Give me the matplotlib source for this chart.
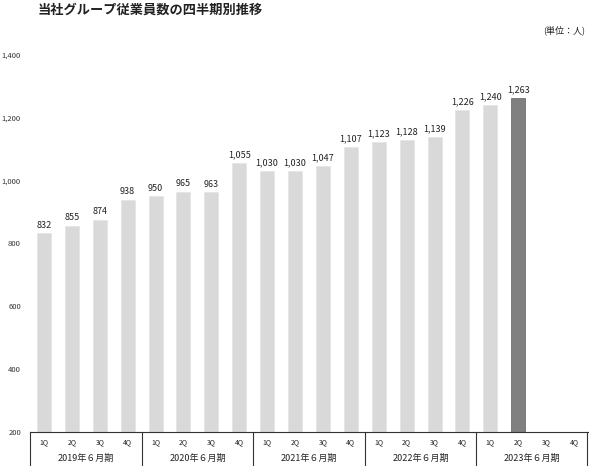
import numpy as np
import matplotlib.pyplot as plt

plt.rcParams['font.family'] = ['Noto Sans CJK JP', 'DejaVu Sans']

TITLE = '当社グループ従業員数の四半期別推移'
UNIT = '(単位：人)'
years = ['2019年６月期', '2020年６月期', '2021年６月期', '2022年６月期', '2023年６月期']
quarters = ['1Q', '2Q', '3Q', '4Q']
employees = [832, 855, 874, 938,
             950, 965, 963, 1055,
             1030, 1030, 1047, 1107,
             1123, 1128, 1139, 1226,
             1240, 1263]
highlight = 17  # latest quarter
y_ticks = [200, 400, 600, 800, 1000, 1200, 1400]

W, H = 589, 466
fig = plt.figure(figsize=(W / 100, H / 100), dpi=100)
ax = fig.add_axes([30 / W, (H - 432) / H, 558 / W, (432 - 55) / H])

n_slots = len(years) * len(quarters)
x = np.arange(len(employees))
colors = ['#d9d9d9'] * len(employees)
colors[highlight] = '#808080'
ax.bar(x, np.array(employees) - 200, bottom=200, width=0.5, color=colors,
       edgecolor=['#e6e6e6' if i != highlight else '#707070' for i in x], linewidth=0.6)

for xi, v in zip(x, employees):
    ax.text(xi, v + 12, f'{v:,}', ha='center', va='bottom', fontsize=6.5, color='#222222')

ax.set_xlim(-0.5, n_slots - 0.5)
ax.set_ylim(200, 1400)
ax.set_yticks(y_ticks)
ax.set_yticklabels([f'{t:,}' for t in y_ticks], fontsize=5.5, color='#333333')
ax.tick_params(axis='y', length=0, pad=6.5)
ax.set_xticks([])
for s in ['top', 'right', 'left']:
    ax.spines[s].set_visible(False)
ax.spines['bottom'].set_color('#333333')
ax.spines['bottom'].set_linewidth(0.8)

# category box below the axis (open at the bottom edge)
box_h = (466 - 432) / (432 - 55) * 1200
y_q = 200 - box_h * 0.30
y_y = 200 - box_h * 0.78
for i in range(n_slots):
    ax.text(i, y_q, quarters[i % 4], ha='center', va='center', fontsize=5, color='#222222', clip_on=False)
for k, yr in enumerate(years):
    ax.text(k * 4 + 1.5, y_y, yr, ha='center', va='center', fontsize=6.5, color='#222222', clip_on=False)
for k in range(len(years) + 1):
    xb = k * 4 - 0.5
    if k == len(years):
        xb -= 0.05
    ax.plot([xb, xb], [200, 200 - box_h * 1.1], color='#333333', lw=0.8, clip_on=False)

fig.text(38 / W, 1 - 10 / H, TITLE, fontsize=9.5, fontweight='bold', color='#222222', va='center')
fig.text(585 / W, 1 - 30 / H, UNIT, fontsize=6.5, color='#222222', ha='right', va='center')

fig.savefig('out.png', dpi=100)
